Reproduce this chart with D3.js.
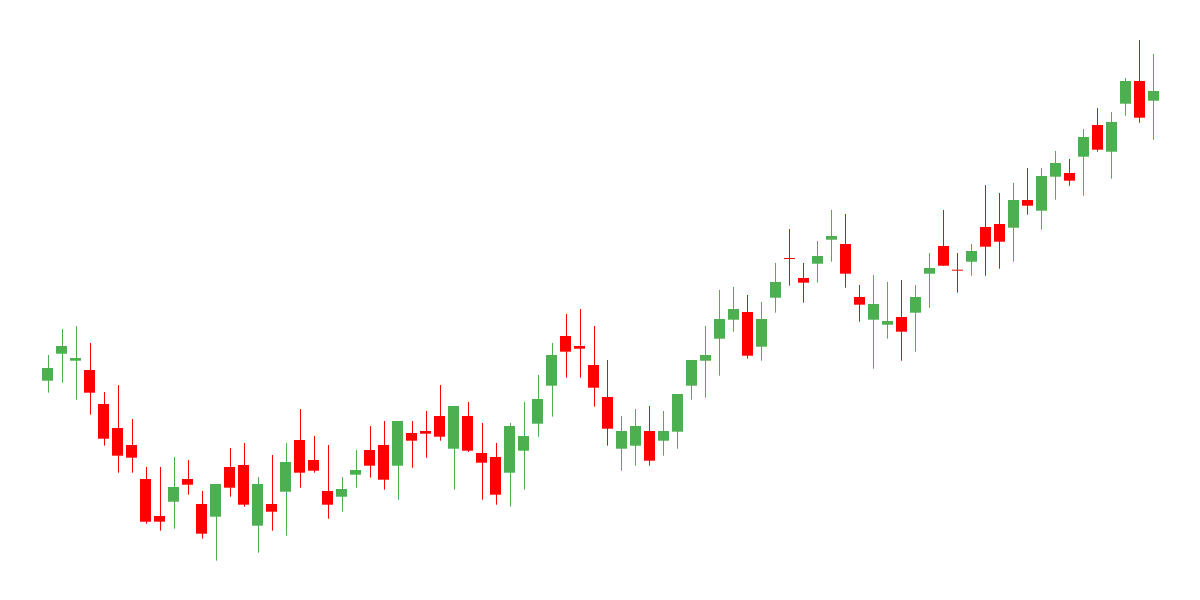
<!DOCTYPE html>
<html>
<head>
<meta charset="utf-8">
<script src="https://cdn.jsdelivr.net/npm/d3@7"></script>
<style>
  body { margin: 0; background: #fff; }
  svg { display: block; }
</style>
</head>
<body>
<svg id="chart" width="1200" height="600"></svg>
<script>

// daily OHLC values
var openP  = [81.93,84.63,83.93,83.00,79.60,77.20,75.50,72.10,68.40,69.83,
              72.10,69.60,68.33,73.30,73.50,67.43,69.60,70.83,76.00,74.00,
              70.90,70.33,72.53,75.00,75.50,73.43,76.70,76.90,78.40,75.13,
              78.40,74.70,74.30,72.73,74.93,77.63,81.43,86.40,85.40,83.50,
              80.30,75.13,75.43,76.90,75.93,76.83,81.43,83.93,86.13,88.03,
              88.80,85.33,90.23,94.20,92.20,93.63,96.03,95.60,90.30,88.03,
              87.53,88.30,88.73,92.63,95.40,93.03,93.83,97.30,97.60,97.23,
              100.00,98.93,102.33,102.70,104.33,107.50,104.83,109.63,111.90,109.93];
var highP  = [84.50,87.10,87.40,85.70,80.80,81.50,78.10,73.30,73.30,74.30,
              74.00,70.90,71.60,75.20,75.70,72.30,74.50,75.70,79.10,76.40,
              75.50,72.30,75.00,77.40,77.90,77.90,77.90,78.90,81.50,79.40,
              79.80,77.70,75.70,77.70,79.80,82.50,85.70,88.60,89.10,87.40,
              84.00,78.40,79.10,79.40,78.90,80.60,84.00,87.40,91.00,91.30,
              90.50,89.80,93.70,97.10,93.70,95.90,99.00,98.60,91.50,92.50,
              91.80,92.00,91.50,94.70,99.00,94.70,95.60,101.50,100.70,101.70,
              103.20,103.20,104.90,104.10,107.10,109.20,108.80,112.20,116.00,114.60];
var lowP   = [80.73,81.73,80.03,78.53,75.43,72.73,72.73,67.63,66.93,67.13,
              70.53,66.13,63.93,70.33,69.33,64.73,66.93,66.43,71.23,72.73,
              68.13,68.83,71.23,72.23,71.03,70.03,73.23,74.23,75.93,71.03,
              74.80,70.03,69.53,69.33,71.03,76.33,78.33,82.23,82.23,79.33,
              75.43,72.93,73.43,73.43,74.43,75.13,80.03,80.23,82.43,86.83,
              84.13,83.93,88.73,91.43,89.73,91.73,93.83,91.23,87.83,83.13,
              86.13,83.93,84.83,89.23,93.40,90.73,92.43,92.43,93.13,93.83,
              98.53,97.03,100.03,101.43,100.43,104.83,102.13,108.43,107.73,106.03];
var closeP = [83.20,85.40,84.20,80.73,76.13,74.43,74.23,67.83,67.83,71.30,
              71.53,66.63,71.60,71.23,69.53,71.60,68.83,73.80,72.73,72.93,
              69.53,71.10,73.00,73.43,72.03,77.90,75.93,76.63,76.33,79.40,
              74.93,73.73,70.53,77.40,76.40,80.10,84.50,84.83,85.13,81.23,
              77.13,76.90,77.40,73.93,76.90,80.60,84.00,84.50,88.10,89.10,
              84.43,88.10,91.80,94.10,91.73,94.40,96.40,92.63,89.53,89.60,
              87.90,86.83,90.30,93.20,93.43,92.93,94.90,95.33,95.83,100.00,
              99.43,102.40,103.70,101.93,106.30,105.03,107.80,111.90,108.23,110.90];

var upColor = "#4caf50",
    downColor = "#ff0000";

var data = openP.map(function(o, i){
    return { i: i, o: o, h: highP[i], l: lowP[i], c: closeP[i] };
});

var svg = d3.select("#chart");

var xScale = d3.scaleBand()
    .domain(data.map(function(d){ return d.i; }))
    .range([42, 1159])
    .paddingInner(0.21)
    .paddingOuter(0);

var yScale = d3.scaleLinear()
    .domain([60, 120])
    .range([600, 0]);

function color(d){ return d.c >= d.o ? upColor : downColor; }

var candle = svg.append("g")
    .attr("id", "candles")
    .selectAll(".candle")
    .data(data)
    .enter().append("g")
    .attr("class", "candle");

// wicks
candle.append("line")
    .attr("x1", function(d){ return Math.round(xScale(d.i) + xScale.bandwidth()/2) + 0.5; })
    .attr("x2", function(d){ return Math.round(xScale(d.i) + xScale.bandwidth()/2) + 0.5; })
    .attr("y1", function(d){ return yScale(d.h); })
    .attr("y2", function(d){ return yScale(d.l); })
    .attr("stroke", color)
    .attr("stroke-width", 1);

// bodies
candle.append("rect")
    .attr("x", function(d){ return Math.round(xScale(d.i)); })
    .attr("y", function(d){ return yScale(Math.max(d.o, d.c)); })
    .attr("width", Math.round(xScale.bandwidth()))
    .attr("height", function(d){
        return Math.max(1, Math.abs(yScale(d.o) - yScale(d.c)));
    })
    .attr("fill", color);

</script>
</body>
</html>
